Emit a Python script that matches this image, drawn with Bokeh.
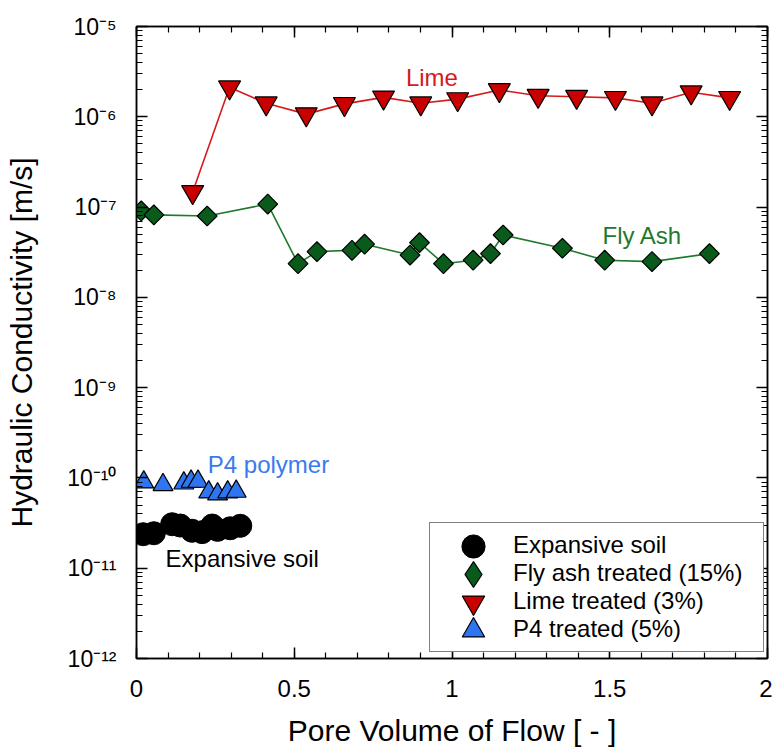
import numpy as np
from bokeh.plotting import figure
from bokeh.models import (LogAxis, LinearAxis, FixedTicker, Legend, LegendItem,
                          Label, Range1d)
from bokeh.embed import file_html
from bokeh.resources import INLINE

# ---------------- data ----------------
soil_x = [0.021, 0.055, 0.113, 0.139, 0.176, 0.208, 0.240, 0.257, 0.297, 0.329]
soil_k = [2.38e-11, 2.44e-11, 3.07e-11, 2.97e-11, 2.60e-11, 2.51e-11,
          2.97e-11, 2.66e-11, 2.77e-11, 2.95e-11]

fly_x = [0.015, 0.055, 0.224, 0.416, 0.512, 0.572, 0.683, 0.723, 0.867, 0.897,
         0.973, 1.067, 1.122, 1.162, 1.350, 1.484, 1.634, 1.816]
fly_k = [9.08e-8, 8.19e-8, 7.97e-8, 1.08e-7, 2.36e-8, 3.21e-8, 3.32e-8, 3.88e-8,
         2.94e-8, 4.04e-8, 2.36e-8, 2.58e-8, 3.05e-8, 4.91e-8, 3.50e-8, 2.58e-8,
         2.49e-8, 3.05e-8]

lime_x = [0.178, 0.295, 0.411, 0.538, 0.659, 0.783, 0.901, 1.018, 1.150, 1.273,
          1.395, 1.518, 1.634, 1.758, 1.880]
lime_k = [1.47e-7, 2.12e-6, 1.41e-6, 1.07e-6, 1.39e-6, 1.64e-6, 1.41e-6, 1.57e-6,
          1.98e-6, 1.71e-6, 1.67e-6, 1.62e-6, 1.41e-6, 1.87e-6, 1.62e-6]

p4_x = [0.023, 0.084, 0.150, 0.173, 0.195, 0.229, 0.257, 0.289, 0.316]
p4_k = [8.97e-11, 8.39e-11, 8.74e-11, 9.14e-11, 9.14e-11, 6.95e-11, 6.61e-11,
        6.95e-11, 7.08e-11]

series_names = ["Expansive soil", "Fly ash treated (15%)", "Lime treated (3%)",
                "P4 treated (5%)"]

x_ticks = [0, 0.5, 1, 1.5, 2]
x_tick_labels = ["0", "0.5", "1", "1.5", "2"]
y_exponents = [-12, -11, -10, -9, -8, -7, -6, -5]

SUP = str.maketrans("-0123456789", "\u207b\u2070\u00b9\u00b2\u00b3\u2074\u2075\u2076\u2077\u2078\u2079")

FONT = "Liberation Sans"
RED_FILL, RED_LINE = "#c80000", "#d61a1a"
GREEN_FILL, GREEN_LINE = "#0a5a1c", "#1f7a2e"
BLUE_FILL, BLUE_TEXT = "#2f74f0", "#3a7af0"

# ---------------- figure ----------------
p = figure(width=772, height=749,
           x_range=Range1d(0, 2), y_range=Range1d(1e-12, 1e-5),
           y_axis_type="log", output_backend="svg", toolbar_location=None,
           min_border_left=136, min_border_right=5, min_border_top=26,
           min_border_bottom=91)
p.xgrid.visible = False
p.ygrid.visible = False
p.outline_line_color = "black"
p.outline_line_width = 1.5
p.background_fill_color = "white"
p.border_fill_color = "white"

x_minor = [round(v, 2) for v in np.arange(0, 2.001, 0.1)]
xticker = FixedTicker(ticks=x_ticks, minor_ticks=x_minor)
y_major = [10.0 ** e for e in y_exponents]
y_minor = [m * 10.0 ** e for e in y_exponents[:-1] for m in range(2, 10)]
yticker = FixedTicker(ticks=y_major, minor_ticks=y_minor)


def style_axis(ax):
    ax.axis_line_color = "black"
    ax.axis_line_width = 1.5
    ax.major_tick_line_color = "black"
    ax.minor_tick_line_color = "black"
    ax.major_tick_line_width = 1.5
    ax.minor_tick_line_width = 1.2
    ax.major_tick_in = 11
    ax.major_tick_out = 0
    ax.minor_tick_in = 6
    ax.minor_tick_out = 0


xa = p.xaxis[0]
xa.ticker = xticker
xa.major_label_overrides = {t: l for t, l in zip(x_ticks, x_tick_labels)}
style_axis(xa)
xa.major_label_text_font = FONT
xa.major_label_text_font_size = "24px"
xa.major_label_text_color = "black"
xa.major_label_standoff = 21
xa.axis_label = "Pore Volume of Flow [ - ]"
xa.axis_label_text_font = FONT
xa.axis_label_text_font_size = "30px"
xa.axis_label_text_font_style = "normal"
xa.axis_label_text_color = "black"
xa.axis_label_standoff = 14

ya = p.yaxis[0]
ya.ticker = yticker
ya.major_label_overrides = {v: "10" + str(e).translate(SUP) for v, e in zip(y_major, y_exponents)}
style_axis(ya)
ya.major_label_text_font = FONT
ya.major_label_text_font_size = "23px"
ya.major_label_text_color = "black"
ya.major_label_standoff = 20
ya.axis_label = "Hydraulic Conductivity [m/s]"
ya.axis_label_text_font = FONT
ya.axis_label_text_font_size = "30px"
ya.axis_label_text_font_style = "normal"
ya.axis_label_text_color = "black"
ya.axis_label_standoff = 26

top = LinearAxis(ticker=xticker, major_label_text_font_size="1px",
                 major_label_text_alpha=0, major_label_standoff=0)
style_axis(top)
p.add_layout(top, "above")
right = LogAxis(ticker=yticker, major_label_text_font_size="1px",
                major_label_text_alpha=0, major_label_standoff=0)
style_axis(right)
p.add_layout(right, "right")

# ---------------- series ----------------
p.line(fly_x, fly_k, line_color=GREEN_LINE, line_width=1.6)
p.line(lime_x, lime_k, line_color=RED_LINE, line_width=1.6)

r_soil = p.scatter(soil_x, soil_k, marker="circle", size=23,
                   fill_color="black", line_color="black", line_width=1)
r_fly = p.scatter(fly_x, fly_k, marker="square", angle=np.pi / 4, size=14,
                  fill_color=GREEN_FILL, line_color="black", line_width=1.2)
r_lime = p.scatter(lime_x, lime_k, marker="inverted_triangle", size=22,
                   fill_color=RED_FILL, line_color="black", line_width=1.2)
r_p4 = p.scatter(p4_x, p4_k, marker="triangle", size=20,
                 fill_color=BLUE_FILL, line_color="black", line_width=1.2)

# legend-only helpers (zero size in the plot; legends size their own glyphs)
r_ghost = p.scatter(soil_x, soil_k, marker="circle", size=0,
                    fill_alpha=0, line_alpha=0)
r_fly_key = p.scatter(fly_x, fly_k, marker="diamond", size=0,
                      fill_color=GREEN_FILL, line_color="black", line_width=1.2)

# ---------------- annotations ----------------
for txt, x, y, col in [("Lime", 0.854, 2.72e-6, RED_LINE),
                       ("Fly Ash", 1.477, 4.79e-8, GREEN_LINE),
                       ("P4 polymer", 0.226, 1.40e-10, BLUE_TEXT),
                       ("Expansive soil", 0.092, 1.29e-11, "black")]:
    p.add_layout(Label(x=x, y=y, text=txt, text_font=FONT, text_font_size="24px",
                       text_color=col, text_align="left", text_baseline="middle"))

# ---------------- legend ----------------
LEG_X, LEG_Y, PAD, ROW, GW = 293, 6, 8, 28, 72
legend = Legend(items=[LegendItem(label=n, renderers=[r_ghost]) for n in series_names],
                location=(LEG_X, LEG_Y))
legend.label_text_font = FONT
legend.label_text_font_size = "24px"
legend.label_text_color = "black"
legend.glyph_width = GW
legend.glyph_height = ROW
legend.label_height = ROW
legend.label_width = 242
legend.spacing = 0
legend.padding = PAD
legend.margin = 0
legend.label_standoff = 3
legend.border_line_color = "black"
legend.border_line_width = 1.5
legend.background_fill_color = "white"
legend.background_fill_alpha = 1
p.add_layout(legend)

# large legend symbols, one small transparent legend per row
leg_h = 4 * ROW + 2 * PAD
cx = LEG_X + PAD + GW // 2
for j, (r, g) in enumerate(zip([r_soil, r_fly_key, r_lime, r_p4], [58, 64, 56, 56])):
    cy = LEG_Y + leg_h - PAD - ROW // 2 - ROW * j
    key = Legend(items=[LegendItem(label=" ", renderers=[r])],
                 location=(cx - g // 2, cy - g // 2))
    key.glyph_width = g
    key.glyph_height = g
    key.label_height = 0
    key.label_width = 0
    key.label_standoff = 0
    key.label_text_font_size = "1px"
    key.padding = 0
    key.margin = 0
    key.spacing = 0
    key.border_line_alpha = 0
    key.background_fill_alpha = 0
    key.inactive_fill_alpha = 0
    p.add_layout(key)

open("out.html", "w").write(file_html(p, INLINE))
